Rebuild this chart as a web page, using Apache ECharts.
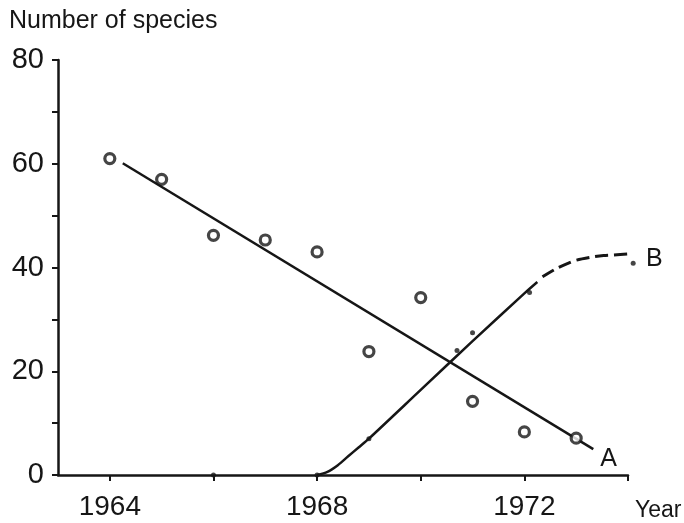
<!DOCTYPE html>
<html>
<head>
<meta charset="utf-8">
<script src="https://cdn.jsdelivr.net/npm/echarts@6/dist/echarts.min.js"></script>
<style>html,body{margin:0;padding:0;background:#fff}#c{width:684px;height:523px}</style>
</head>
<body>
<div id="c"></div>
<script>
// Series A: observed points (circles)
const yearsA = [1964, 1965, 1966, 1967, 1968, 1969, 1970, 1971, 1972, 1973];
const valuesA = [61, 57, 46.2, 45.3, 43, 23.8, 34.2, 14.2, 8.3, 7.1];
// Fitted line A
const lineAX = [1964.25, 1973.33];
const lineAY = [60.1, 5.0];
// Series B: observed points (small dots)
const yearsB = [1966, 1968, 1969, 1970.7, 1971, 1972.1, 1974.1];
const valuesB = [0, 0, 7.0, 24, 27.4, 35.2, 40.8];
// Curve B, solid part
const curveBX = [1968, 1968.2, 1968.4, 1968.6, 1968.8, 1969, 1970, 1971, 1972, 1972.25];
const curveBY = [0, 0.6, 1.9, 3.6, 5.3, 7.0, 16.4, 25.8, 35.0, 37.2];
// Curve B, dashed part
const dashBX = [1972.35, 1972.6, 1972.84, 1973.0, 1973.3, 1973.53, 1973.7, 1974.0, 1974.27];
const dashBY = [38.2, 39.7, 40.8, 41.4, 42.0, 42.3, 42.4, 42.6, 42.8];
// Axis ticks / labels
const xTickValues = [1964, 1966, 1968, 1970, 1972, 1974];
const xLabelValues = [1964, 1968, 1972];
const yLabelValues = [0, 20, 40, 60, 80];

const zip = (a, b) => a.map((v, i) => [v, b[i]]);
const INK = '#161616';
const FONT = '"Liberation Sans", Arial, sans-serif';

const chart = echarts.init(document.getElementById('c'));
chart.setOption({
  animation: false,
  backgroundColor: '#fff',
  grid: { left: 58, right: 56, top: 60, bottom: 48, containLabel: false },
  graphic: [
    { type: 'text', left: 9, top: 9, style: { text: 'Number of species', font: '25px ' + FONT, fill: INK } },
    { type: 'text', left: 635, top: 499, style: { text: 'Year', font: '23px ' + FONT, fill: INK } }
  ],
  xAxis: {
    type: 'value', min: 1963, max: 1974, interval: 1,
    axisLine: { lineStyle: { color: INK, width: 2.5 } },
    axisTick: { show: true, customValues: xTickValues, length: 6, lineStyle: { color: INK, width: 2 } },
    axisLabel: { customValues: xLabelValues, margin: 18, color: INK, fontSize: 28, fontFamily: FONT, formatter: v => String(v) },
    splitLine: { show: false }
  },
  yAxis: {
    type: 'value', min: 0, max: 80, interval: 10,
    axisLine: { show: true, lineStyle: { color: INK, width: 2.5 } },
    axisTick: { show: true, length: 6, lineStyle: { color: INK, width: 2 } },
    axisLabel: { customValues: yLabelValues, margin: 14, color: INK, fontSize: 29, fontFamily: FONT },
    splitLine: { show: false }
  },
  series: [
    {
      type: 'line', data: zip(lineAX, lineAY), symbol: 'none',
      lineStyle: { color: INK, width: 2.5 },
      endLabel: { show: true, formatter: 'A', color: INK, fontSize: 25, fontFamily: FONT, offset: [-1, 10] }
    },
    {
      type: 'line', data: zip(curveBX, curveBY), symbol: 'none', smooth: 0.3,
      lineStyle: { color: INK, width: 2.5 }
    },
    {
      type: 'line', data: zip(dashBX, dashBY), symbol: 'none', smooth: 0.3, clip: false,
      lineStyle: { color: INK, width: 3, type: [13, 6] },
      endLabel: { show: true, formatter: 'B', color: INK, fontSize: 25, fontFamily: FONT, offset: [8, 5] }
    },
    {
      type: 'scatter', data: zip(yearsA, valuesA), symbol: 'circle', symbolSize: 10,
      itemStyle: { color: '#fff', borderColor: INK, borderWidth: 3.2 }, z: 5
    },
    {
      type: 'scatter', data: zip(yearsB, valuesB), symbol: 'circle', symbolSize: 5, clip: false,
      itemStyle: { color: INK }, z: 5
    }
  ]
});
</script>
</body>
</html>
